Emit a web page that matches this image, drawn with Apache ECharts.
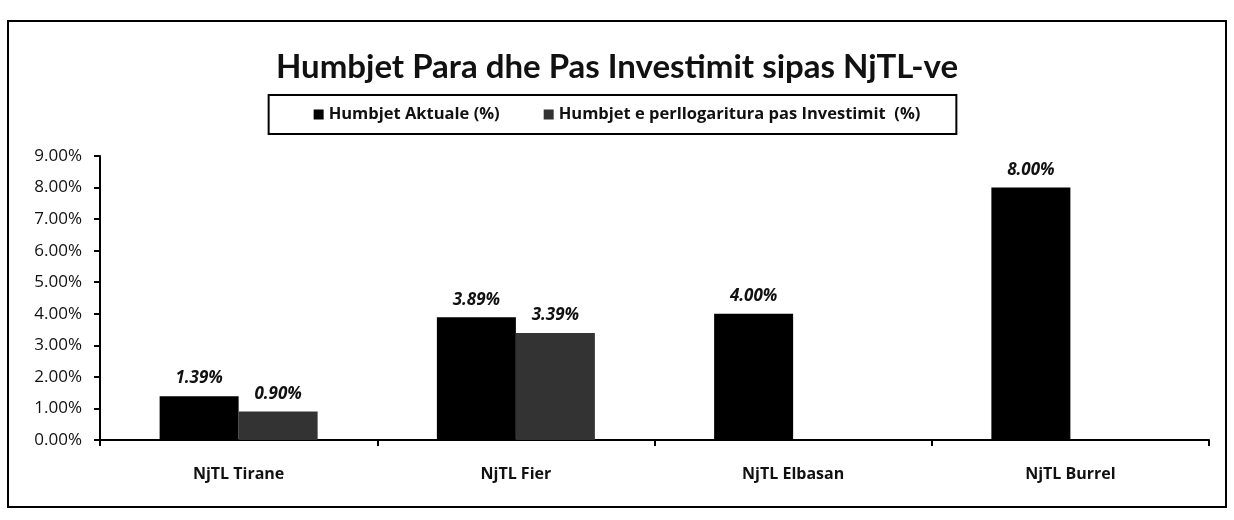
<!DOCTYPE html>
<html>
<head>
<meta charset="utf-8">
<script src="https://cdn.jsdelivr.net/npm/echarts@6/dist/echarts.min.js"></script>
<style>
  html, body { margin: 0; padding: 0; background: #fff; }
  #frame { position: absolute; left: 7px; top: 20px; width: 1220px; height: 488px; border: 2px solid #000; box-sizing: border-box; }
  #chart { position: absolute; left: 0; top: 0; width: 1234px; height: 520px; }
</style>
</head>
<body>
<div id="frame"></div>
<div id="chart"></div>
<script>
const categories = ["NjTL Tirane", "NjTL Fier", "NjTL Elbasan", "NjTL Burrel"];
const seriesNames = ["Humbjet Aktuale (%)", "Humbjet e perllogaritura pas Investimit  (%)"];
const actual = [1.39, 3.89, 4.00, 8.00];
const afterInvest = [0.90, 3.39, null, null];

const titleFont = "Lato, 'Open Sans', sans-serif";
const font = "'Open Sans', Lato, sans-serif";
const pct = (v) => v.toFixed(2) + "%";

const barLabel = {
  show: true,
  position: "top",
  distance: 9,
  fontFamily: font,
  fontSize: 17,
  fontWeight: "bold",
  fontStyle: "italic",
  color: "#111",
  formatter: (p) => pct(p.value),
};

const chart = echarts.init(document.getElementById("chart"), null, { renderer: "canvas" });
chart.setOption({
  animation: false,
  title: {
    text: "Humbjet Para dhe Pas Investimit sipas NjTL-ve",
    left: "center",
    top: 46,
    textStyle: { fontFamily: titleFont, fontSize: 33, fontWeight: "bold", color: "#111" },
  },
  legend: {
    top: 95,
    left: "center",
    padding: [11, 36, 11, 45],
    itemGap: 44,
    itemWidth: 10,
    itemHeight: 10,
    borderColor: "#000",
    borderWidth: 2,
    icon: "rect",
    textStyle: { fontFamily: font, fontSize: 16.5, fontWeight: "bold", color: "#111" },
    data: seriesNames,
  },
  grid: { left: 100, right: 25, top: 156, bottom: 80 },
  xAxis: {
    type: "category",
    data: categories,
    axisLine: { lineStyle: { color: "#000", width: 2 } },
    axisTick: { show: true, length: 6, lineStyle: { color: "#000", width: 2 } },
    axisLabel: { margin: 26, fontFamily: font, fontSize: 16, fontWeight: "bold", color: "#111" },
  },
  yAxis: {
    type: "value",
    min: 0,
    max: 9,
    interval: 1,
    axisLine: { show: true, lineStyle: { color: "#000", width: 2 } },
    axisTick: { show: true, length: 6, lineStyle: { color: "#000", width: 2 } },
    splitLine: { show: false },
    axisLabel: { margin: 18, fontFamily: font, fontSize: 17, color: "#111", formatter: pct },
  },
  series: [
    {
      name: seriesNames[0],
      type: "bar",
      data: actual,
      barWidth: 79,
      barGap: "0%",
      itemStyle: { color: "#000" },
      label: barLabel,
    },
    {
      name: seriesNames[1],
      type: "bar",
      data: afterInvest,
      barWidth: 79,
      itemStyle: { color: "#333" },
      label: barLabel,
    },
  ],
});
</script>
</body>
</html>
